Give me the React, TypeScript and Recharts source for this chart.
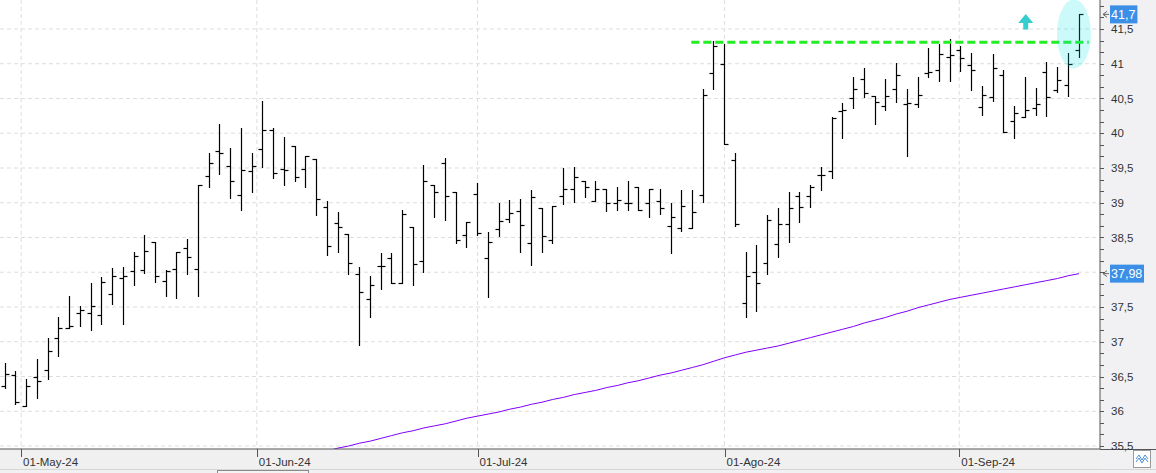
import {
  ComposedChart,
  Bar,
  Line,
  XAxis,
  YAxis,
  CartesianGrid,
  ReferenceLine,
  ReferenceDot,
} from 'recharts';

// daily bars, 29-Apr-24 .. 17-Sep-24 (index 0..100)
const opens = [
  36.36, 36.52, 36.07, 36.49, 36.6, 37.05, 37.2, 37.42, 37.41, 37.38,
  37.69, 37.92, 38.02, 38.03, 38.44, 37.88, 38.04, 38.35, 38.05, 39.38,
  39.75, 39.53, 39.11, 39.45, 39.78, 40.04, 39.49, 39.81, 39.49, 39.63,
  38.94, 38.71, 38.55, 37.98, 37.62, 38.09, 38.21, 37.85, 38.65, 38.16,
  39.25, 39.57, 39.15, 38.53, 39.12, 38.21, 38.62, 38.76, 38.88, 38.42,
  38.92, 38.47, 39.1, 39.2, 39.31, 39.02, 39.2, 39.0, 39.0, 39.22,
  39.0, 39.02, 38.66, 38.64, 38.64, 39.11, 40.86, 40.99, 39.61, 37.56,
  38.01, 38.14, 38.4, 38.7, 39.09, 39.09, 39.4, 39.45, 40.32, 40.5,
  40.78, 40.53, 40.39, 40.63, 40.42, 40.42, 40.86, 40.91, 41.1, 41.2,
  40.98, 40.38, 40.52, 40.84, 40.17, 40.23, 40.37, 40.88, 40.62, 40.7,
  41.2,
];
const highs = [
  36.69, 36.58, 36.46, 36.75, 37.05, 37.36, 37.66, 37.52, 37.84, 37.93,
  38.06, 38.08, 38.29, 38.54, 38.44, 38.03, 38.29, 38.48, 39.26, 39.72,
  40.13, 39.79, 40.07, 39.72, 40.46, 40.07, 39.94, 39.81, 39.67, 39.63,
  39.02, 38.87, 38.55, 38.08, 37.95, 38.28, 38.28, 38.9, 38.65, 39.55,
  39.25, 39.64, 39.15, 38.73, 39.28, 38.58, 38.99, 39.04, 39.05, 39.19,
  38.92, 38.95, 39.5, 39.51, 39.31, 39.31, 39.2, 39.22, 39.32, 39.22,
  39.2, 39.2, 38.99, 39.19, 39.19, 40.63, 41.32, 41.29, 39.71, 38.29,
  38.39, 38.83, 38.93, 39.16, 39.16, 39.26, 39.52, 40.24, 40.44, 40.81,
  40.94, 40.54, 40.78, 41.01, 40.63, 40.81, 41.22, 41.28, 41.35, 41.26,
  41.16, 40.68, 41.14, 40.91, 40.39, 40.81, 40.65, 41.02, 40.95, 41.16,
  41.71,
];
const lows = [
  36.33, 36.11, 36.07, 36.19, 36.46, 36.79, 37.2, 37.23, 37.17, 37.26,
  37.55, 37.26, 37.82, 37.99, 37.86, 37.66, 37.63, 37.98, 37.66, 39.22,
  39.42, 39.07, 38.9, 39.16, 39.52, 39.35, 39.26, 39.31, 39.22, 38.83,
  38.25, 38.29, 37.97, 36.96, 37.36, 37.76, 37.85, 37.85, 37.81, 38.0,
  38.79, 38.75, 38.42, 38.37, 38.53, 37.65, 38.52, 38.72, 38.29, 38.1,
  38.29, 38.42, 38.98, 39.01, 39.08, 39.02, 38.88, 38.9, 38.9, 38.9,
  38.8, 38.84, 38.28, 38.59, 38.64, 39.01, 40.63, 39.84, 38.66, 37.36,
  37.44, 37.98, 38.22, 38.44, 38.72, 38.94, 39.19, 39.35, 39.93, 40.36,
  40.52, 40.13, 40.33, 40.45, 39.67, 40.38, 40.81, 40.75, 40.75, 40.9,
  40.62, 40.26, 40.47, 40.02, 39.93, 40.23, 40.26, 40.25, 40.59, 40.54,
  41.1,
];
const closes = [
  36.53, 36.14, 36.36, 36.43, 36.86, 37.2, 37.23, 37.46, 37.51, 37.86,
  37.94, 37.95, 38.24, 38.31, 37.94, 38.02, 38.29, 38.22, 39.26, 39.57,
  39.71, 39.31, 39.47, 39.53, 40.04, 39.43, 39.47, 39.37, 39.67, 39.06,
  38.38, 38.65, 38.13, 37.72, 37.82, 38.09, 37.85, 38.84, 38.12, 39.31,
  39.15, 39.09, 38.47, 38.73, 38.56, 38.44, 38.74, 38.85, 38.68, 39.08,
  38.52, 38.95, 39.2, 39.37, 39.22, 39.2, 39.0, 39.04, 39.0, 38.9,
  39.2, 38.93, 38.79, 38.96, 38.86, 40.55, 41.26, 39.84, 38.69, 37.94,
  37.85, 38.75, 38.7, 38.93, 38.94, 39.22, 39.4, 40.22, 40.34, 40.63,
  40.58, 40.45, 40.54, 40.84, 40.44, 40.55, 40.88, 41.14, 41.12, 41.08,
  40.91, 40.55, 40.94, 40.02, 40.29, 40.33, 40.42, 40.52, 40.76, 41.0,
  41.71,
];
// long moving average (purple), only the visible part
const movingAverage: (number | null)[] = [
  null, null, null, null, null, null, null, null, null, null,
  null, null, null, null, null, null, null, null, null, null,
  null, null, null, null, null, null, null, null, null, null,
  35.43, 35.47, 35.5, 35.54, 35.57, 35.61, 35.65, 35.69, 35.72, 35.76,
  35.79, 35.82, 35.86, 35.9, 35.93, 35.96, 35.99, 36.03, 36.06, 36.1,
  36.13, 36.17, 36.2, 36.24, 36.27, 36.3, 36.34, 36.37, 36.41, 36.44,
  36.48, 36.52, 36.55, 36.59, 36.63, 36.67, 36.72, 36.77, 36.81, 36.85,
  36.88, 36.91, 36.94, 36.98, 37.02, 37.06, 37.1, 37.14, 37.18, 37.22,
  37.27, 37.31, 37.35, 37.4, 37.44, 37.49, 37.53, 37.57, 37.61, 37.64,
  37.67, 37.7, 37.73, 37.76, 37.79, 37.82, 37.85, 37.88, 37.91, 37.95,
  37.98,
];

const monthTicks = [1.5, 23.45, 44, 67, 88.85];
const monthLabels = ['01-May-24', '01-Jun-24', '01-Jul-24', '01-Ago-24', '01-Sep-24'];
const priceTicks = [35.5, 36, 36.5, 37, 37.5, 38, 38.5, 39, 39.5, 40, 40.5, 41, 41.5];

const breakoutLevel = 41.31;
const breakoutFrom = 63.9;
const breakoutTo = 100.9;
const lastClose = 41.71;
const lastAverage = 37.98;

const rows = opens.map((open, i) => ({
  i,
  open,
  high: highs[i],
  low: lows[i],
  close: closes[i],
  ma: movingAverage[i],
}));

// minor ticks: three steps per half point
const allPriceTicks: number[] = [];
priceTicks.forEach((t) => {
  allPriceTicks.push(t, t + 1 / 6, t + 2 / 6);
});

const fmt = (v: number) => String(Math.round(v * 100) / 100).replace('.', ',');
const font = '"Liberation Sans", Arial, sans-serif';

function OhlcBar(props: any) {
  const { x, y, width, height, payload } = props;
  if (x == null || y == null || !payload) return null;
  const top = Math.min(y, y + height);
  const bottom = Math.max(y, y + height);
  const span = payload.high - payload.low || 1;
  const toY = (v: number) => top + ((payload.high - v) / span) * (bottom - top);
  const cx = Math.round(x + width / 2) + 0.5;
  const yo = Math.round(toY(payload.open)) + 0.5;
  const yc = Math.round(toY(payload.close)) + 0.5;
  return (
    <g stroke="#000" strokeWidth={1.2}>
      <line x1={cx} x2={cx} y1={Math.round(top)} y2={Math.round(bottom) + 1} />
      <line x1={cx - 4} x2={cx} y1={yo} y2={yo} />
      <line x1={cx} x2={cx + 4} y1={yc} y2={yc} />
    </g>
  );
}

function PriceTick(props: any) {
  const { x, y, payload } = props;
  const v = payload.value;
  const major = Math.abs(v * 2 - Math.round(v * 2)) < 1e-6;
  // the value badges cover the labels next to them
  const covered = Math.abs(v - lastAverage) < 0.15 || Math.abs(v - lastClose) < 0.15;
  const yy = Math.round(y) + 0.5;
  return (
    <g>
      <line x1={x} x2={x + 4} y1={yy} y2={yy} stroke="#555" />
      {major && !covered && (
        <text x={x + 11} y={y} dy="0.36em" fontSize={11.5} fill="#333" fontFamily={font}>
          {fmt(v)}
        </text>
      )}
    </g>
  );
}

function MonthTick(props: any) {
  const { x, y, payload } = props;
  const idx = monthTicks.indexOf(payload.value);
  const xx = Math.round(x) + 0.5;
  return (
    <g>
      <line x1={xx} x2={xx} y1={y} y2={y + 8} stroke="#555" />
      <text x={x + 2} y={y + 17} fontSize={11.5} fill="#333" fontFamily={font}>
        {monthLabels[idx]}
      </text>
    </g>
  );
}

function Badge(props: any) {
  const { viewBox, text } = props;
  if (!viewBox) return null;
  const ax = viewBox.x + viewBox.width;
  const yy = viewBox.y;
  const w = text.length * 6.6 + 1;
  return (
    <g>
      <path d={`M${ax + 3} ${yy} l4 -3 M${ax + 3} ${yy} l4 3 M${ax + 3} ${yy} h6`} stroke="#666" fill="none" />
      <rect x={ax + 10} y={yy - 9} width={w} height={18} fill="#3b8fe6" />
      <text x={ax + 11} y={yy} dy="0.36em" fontSize={12.5} fill="#fff" fontFamily={font}>
        {text}
      </text>
    </g>
  );
}

const Ellipse = (props: any) => (
  <ellipse cx={props.cx} cy={props.cy} rx={17} ry={34.5} fill="#00e6e6" fillOpacity={0.2} />
);

const UpArrow = (props: any) => {
  const { cx, cy } = props;
  return (
    <path
      d={`M${cx} ${cy} L${cx + 7.5} ${cy + 9} L${cx + 2.5} ${cy + 9} L${cx + 2.5} ${cy + 15.5} L${cx - 2.5} ${cy + 15.5} L${cx - 2.5} ${cy + 9} L${cx - 7.5} ${cy + 9} Z`}
      fill="#35cdcd"
    />
  );
};

export default function App() {
  return (
    <div style={{ position: 'absolute', left: 0, top: 0, width: 1156, height: 473, background: '#f1f1f3', overflow: 'hidden' }}>
      <div style={{ position: 'absolute', left: 0, top: 0, width: 1100, height: 449, background: '#fff' }} />
      <div style={{ position: 'absolute', left: 0, top: 449, width: 1100, height: 21, background: '#f0f0f0' }} />
      <div style={{ position: 'absolute', left: 1100, top: 449, width: 56, height: 1, background: '#555' }} />
      <div style={{ position: 'absolute', left: 0, top: 469, width: 1156, height: 1, background: '#d6d6d6' }} />
      <div style={{ position: 'absolute', left: 217, top: 470, width: 90, height: 6, border: '1px solid #8a8a8a', background: '#f4f4f4' }} />
      <svg style={{ position: 'absolute', left: 1133, top: 450 }} width={18} height={18}>
        <rect x={0.5} y={0.5} width={17} height={17} fill="#fff" stroke="#9a9a9a" />
        <path d="M3 9 L6 5 L9 10 L12 5 L15 9 M3 12 L6 8 L9 13 L12 8 L15 12" stroke="#4a90d9" fill="none" strokeWidth={1} />
      </svg>
      <ComposedChart
        width={1156}
        height={473}
        data={rows}
        margin={{ top: 0, right: 0, bottom: 0, left: 0 }}
        style={{ position: 'absolute', left: 0, top: 0 }}
      >
        <CartesianGrid
          stroke="#dddddd"
          strokeDasharray="4 3"
          horizontalValues={priceTicks}
          verticalValues={monthTicks}
        />
        <XAxis
          dataKey="i"
          type="number"
          domain={[-0.466, 101.955]}
          allowDataOverflow
          ticks={monthTicks}
          interval={0}
          tick={<MonthTick />}
          tickLine={false}
          tickSize={0}
          tickMargin={0}
          axisLine={{ stroke: '#555' }}
          height={24}
        />
        <YAxis
          orientation="right"
          type="number"
          domain={[35.457, 41.917]}
          allowDataOverflow
          ticks={allPriceTicks}
          interval={0}
          tick={<PriceTick />}
          tickLine={false}
          tickSize={0}
          tickMargin={0}
          axisLine={{ stroke: '#555' }}
          width={56}
        />
        <ReferenceDot x={99.53} y={41.428} shape={<Ellipse />} />
        <Bar
          dataKey={(d: any) => [d.low, d.high]}
          barSize={8}
          shape={<OhlcBar />}
          isAnimationActive={false}
        />
        <Line
          dataKey="ma"
          stroke="#8000ff"
          strokeWidth={1}
          dot={false}
          activeDot={false}
          isAnimationActive={false}
        />
        <ReferenceLine
          segment={[
            { x: breakoutFrom, y: breakoutLevel },
            { x: breakoutTo, y: breakoutLevel },
          ]}
          stroke="#22ee22"
          strokeWidth={3}
          strokeDasharray="8 4"
        />
        <ReferenceDot x={95.04} y={41.716} shape={<UpArrow />} />
        <ReferenceLine y={lastClose} stroke="none" label={<Badge text={fmt(lastClose).replace(/(\,\d)\d$/, '$1')} />} />
        <ReferenceLine y={lastAverage} stroke="none" label={<Badge text={fmt(lastAverage)} />} />
      </ComposedChart>
    </div>
  );
}
